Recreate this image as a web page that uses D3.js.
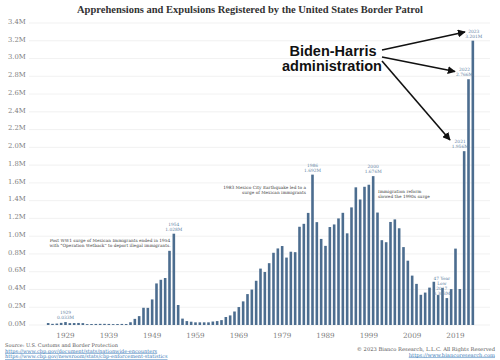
<!DOCTYPE html>
<html><head><meta charset="utf-8">
<script src="https://cdn.jsdelivr.net/npm/d3@7/dist/d3.min.js"></script>
<style>
html,body{margin:0;padding:0;background:#fff;}
svg{display:block;}
</style></head>
<body>
<svg id="chart" width="500" height="360"></svg>
<script>
// ---- data (thousands of apprehensions, fiscal years) ----
const years = d3.range(1925, 2024);
const values = [
  22,13,16,24,33,21,22,23,21,10,
  11,12,13,13,12,10,11,12,11,31,
  69,100,194,193,288,468,509,529,835,1028,
  225,72,44,37,30,30,30,30,39,44,
  55,90,108,152,202,266,348,399,498,635,
  597,696,813,862,889,759,825,820,1106,1139,
  1262,1693,1158,969,891,1103,1132,1200,1263,1032,
  1324,1550,1413,1556,1579,1676,1266,955,932,1160,
  1189,1089,877,724,556,463,340,365,421,487,
  337,416,303,404,860,405,1957,2767,3201
];
const yTicks = d3.range(0, 3401, 200);          // thousands
const xTickYears = [1929,1939,1949,1959,1969,1979,1989,1999,2009,2019];
const valueLabels = [
  {year:1929, lines:["1929","0.033M"], dx:0},
  {year:1954, lines:["1954","1.028M"], dx:0},
  {year:1986, lines:["1986","1.692M"], dx:0},
  {year:2000, lines:["2000","1.676M"], dx:0},
  {year:2017, lines:["47 Year","Low","2017","0.303M"], dx:-5},
  {year:2021, lines:["2021","1.956M"], dx:-4},
  {year:2022, lines:["2022","2.766M"], dx:-4},
  {year:2023, lines:["2023","3.201M"], dx:1}
];
const notes = [
  {lines:["Post WW1 surge of Mexican Immigrants ended in 1954","with \u201cOperation Wetback\u201d to deport illegal immigrants."], x:110, y:242, anchor:"middle"},
  {lines:["1983 Mexico City Earthquake led to a","surge of Mexican immigrants"], x:306, y:189, anchor:"end"},
  {lines:["Immigration reform","slowed the 1990s surge"], x:378, y:193, anchor:"start"}
];

const svg = d3.select("#chart");
const serif = "Georgia, 'DejaVu Serif', 'Liberation Serif', serif";

const x = d3.scaleBand().domain(years).range([46, 475]).paddingInner(0.4).paddingOuter(0.2);
const y = d3.scaleLinear().domain([0, 3400]).range([325, 23]);

// title
svg.append("text").attr("x", 250).attr("y", 13).attr("text-anchor","middle")
  .attr("font-family", "'Liberation Serif', serif").attr("font-weight","bold")
  .attr("font-size", 10.5).attr("fill","#333")
  .attr("textLength", 346).attr("lengthAdjust","spacingAndGlyphs")
  .text("Apprehensions and Expulsions Registered by the United States Border Patrol");

// grid + y labels
const gy = svg.append("g");
gy.selectAll("line").data(yTicks).join("line")
  .attr("x1", 29).attr("x2", 490)
  .attr("y1", d => y(d)).attr("y2", d => y(d))
  .attr("stroke", "#ededed").attr("stroke-width", 0.8);
gy.selectAll("text").data(yTicks).join("text")
  .attr("x", 8).attr("y", d => y(d) - 1)
  .attr("dominant-baseline","middle")
  .attr("font-family", serif).attr("font-size", 6.8).attr("fill", "#808080")
  .text(d => (d/1000).toFixed(1) + "M");

// bars
svg.append("g").selectAll("rect").data(years).join("rect")
  .attr("x", (d) => x(d))
  .attr("width", x.bandwidth())
  .attr("y", (d,i) => y(values[i]))
  .attr("height", (d,i) => y(0) - y(values[i]))
  .attr("fill", "#4c6d8f");

// x tick labels
svg.append("g").selectAll("text").data(xTickYears).join("text")
  .attr("x", d => x(d) + x.bandwidth()/2).attr("y", 338)
  .attr("text-anchor","middle")
  .attr("font-family", serif).attr("font-size", 7.2).attr("fill", "#808080")
  .text(d => d);

// value labels
valueLabels.forEach(v => {
  const i = years.indexOf(v.year);
  const cx = x(v.year) + x.bandwidth()/2 + v.dx;
  const top = y(values[i]);
  const n = v.lines.length;
  const t = svg.append("text").attr("text-anchor","middle")
    .attr("font-family", serif).attr("font-size", 4.4).attr("fill", "#5f7f9f");
  v.lines.forEach((l, k) => {
    t.append("tspan").attr("x", cx).attr("y", top - 3 - (n - 1 - k) * 5).text(l);
  });
});

// notes
notes.forEach(nt => {
  const t = svg.append("text").attr("text-anchor", nt.anchor)
    .attr("font-family", serif).attr("font-size", 4.3).attr("fill", "#444");
  nt.lines.forEach((l, k) => {
    t.append("tspan").attr("x", nt.x).attr("y", nt.y + k * 5).text(l);
  });
});

// Biden-Harris callout
const bh = svg.append("text").attr("text-anchor","middle")
  .attr("font-family","'Liberation Sans', Arial, sans-serif").attr("font-weight","bold")
  .attr("font-size", 14.5).attr("fill","#111");
bh.append("tspan").attr("x", 333).attr("y", 56).text("Biden-Harris");
bh.append("tspan").attr("x", 332).attr("y", 71).text("administration");

svg.append("defs").append("marker").attr("id","ah")
  .attr("viewBox","0 0 10 10").attr("refX", 9).attr("refY", 5)
  .attr("markerWidth", 5).attr("markerHeight", 5).attr("orient","auto")
  .append("path").attr("d","M0,0 L10,5 L0,10 z").attr("fill","#111");

const arrows = [
  [382, 50, 465, 32],
  [382, 57, 455, 71.5],
  [382, 61, 450, 140]
];
svg.append("g").selectAll("line").data(arrows).join("line")
  .attr("x1", d => d[0]).attr("y1", d => d[1]).attr("x2", d => d[2]).attr("y2", d => d[3])
  .attr("stroke","#111").attr("stroke-width", 1.6).attr("marker-end","url(#ah)");

// footer
const src = svg.append("text").attr("font-family", serif).attr("font-size", 5);
src.append("tspan").attr("x", 5).attr("y", 347).attr("fill","#555").text("Source: U.S. Customs and Border Protection");
src.append("tspan").attr("x", 5).attr("y", 352.5).attr("fill","#3a7ab8").attr("text-decoration","underline")
  .text("https://www.cbp.gov/document/stats/nationwide-encounters");
src.append("tspan").attr("x", 5).attr("y", 358).attr("fill","#3a7ab8").attr("text-decoration","underline")
  .text("https://www.cbp.gov/newsroom/stats/cbp-enforcement-statistics");

const cr = svg.append("text").attr("text-anchor","end").attr("font-family", serif).attr("font-size", 5.2);
cr.append("tspan").attr("x", 495).attr("y", 351).attr("fill","#555").text("\u00a9 2023 Bianco Research, L.L.C. All Rights Reserved");
cr.append("tspan").attr("x", 495).attr("y", 356.5).attr("fill","#3a7ab8").attr("text-decoration","underline")
  .text("https://www.biancoresearch.com");
</script>
</body></html>
